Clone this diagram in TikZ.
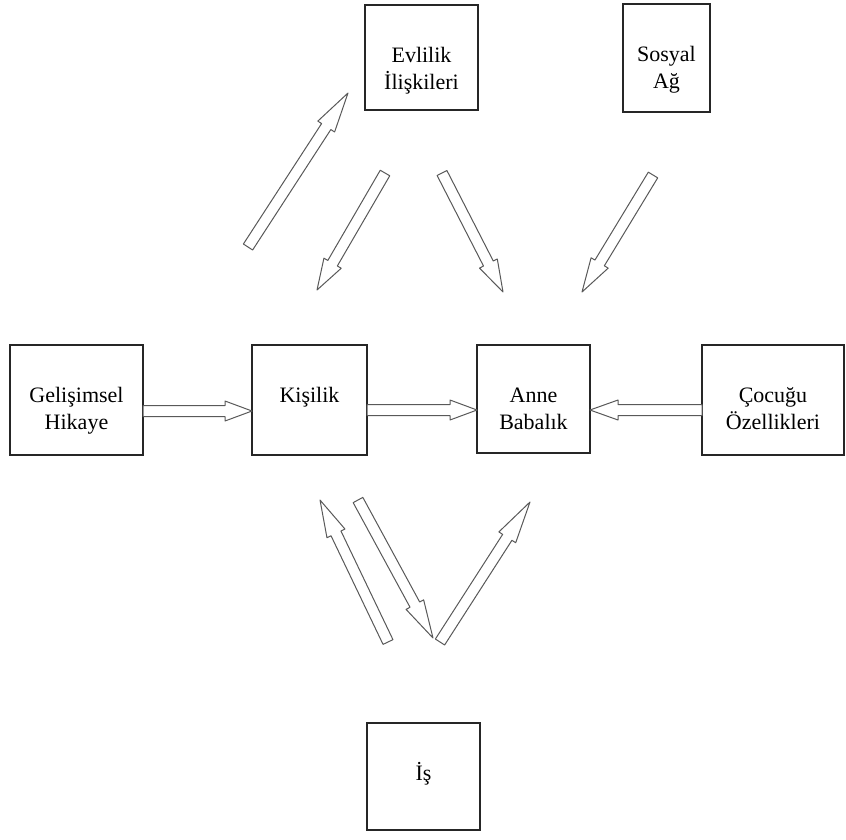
\documentclass[tikz,border=0pt]{standalone}
\usepackage{fontspec}
\setmainfont{Liberation Serif}
\usetikzlibrary{calc}
\tikzset{
  box/.style={draw=black!85, line width=1.2pt, inner sep=0pt, outer sep=0pt},
  arrowline/.style={draw=black!65, line width=1pt, line join=round, fill=white}
}
\newcommand\bx[3]{\begin{minipage}[c][#2pt][t]{#1pt}\centering\fontsize{22pt}{27pt}\selectfont\vspace*{38pt}\rule{0pt}{19pt}#3\end{minipage}}
% hollow block arrow: start, end, head length
\newcommand\hollowarrow[3]{%
  \path let \p1=#1, \p2=#2, \n1={atan2(\y2-\y1,\x2-\x1)}, \n2={veclen(\x2-\x1,\y2-\y1)} in
    \pgfextra{\pgfmathsetmacro\harang{\n1}\global\let\harangG\harang
      \pgfmathsetmacro\harlen{\n2}\global\let\harlenG\harlen
      \xdef\harx{\x1}\xdef\hary{\y1}};
  \pgfmathsetmacro\harbase{\harlenG-#3}%
  \draw[arrowline, shift={(\harx,\hary)}, rotate=\harangG]
    (0pt,-5.5pt) -- (\harbase pt,-5.5pt) -- (\harbase pt,-10pt) -- (\harlenG pt,0pt)
    -- (\harbase pt,10pt) -- (\harbase pt,5.5pt) -- (0pt,5.5pt) -- cycle;
}
\begin{document}
\begin{tikzpicture}[x=1pt,y=-1pt]
\useasboundingbox (0,0) rectangle (846,839);
% boxes
\node[box] (evl) at (421.5,57.5) {\bx{113}{105}{Evlilik\\İlişkileri}};
\node[box] (sos) at (666.5,58) {\bx{87}{108}{Sosyal\\Ağ}};
\node[box] (gel) at (76.5,400) {\bx{133}{110}{Gelişimsel\\Hikaye}};
\node[box] (kis) at (309.5,400) {\bx{115}{110}{Kişilik}};
\node[box] (anne) at (533.5,399) {\bx{113}{108}{Anne\\Babalık}};
\node[box] (coc) at (773,400) {\bx{142}{110}{Çocuğu\\Özellikleri}};
\node[box] (is) at (423.5,776.5) {\bx{113}{107}{İş}};
% free ends of the diagonal arrows
\coordinate (a1s) at (248,247); \coordinate (a1e) at (348,93);
\coordinate (a2s) at (385,173); \coordinate (a2e) at (317,290);
\coordinate (a3s) at (442,173); \coordinate (a3e) at (503,292);
\coordinate (a4s) at (653,175); \coordinate (a4e) at (582,292);
\coordinate (a5s) at (388,642); \coordinate (a5e) at (320,500);
\coordinate (a6s) at (358,500); \coordinate (a6e) at (433,638);
\coordinate (a7s) at (440,642); \coordinate (a7e) at (530,502);
% horizontal arrows
\hollowarrow{([yshift=-11pt]gel.east)}{([yshift=-11pt]kis.west)}{27}
\hollowarrow{([yshift=-10pt]kis.east)}{([yshift=-11pt]anne.west)}{27}
\hollowarrow{([yshift=-10pt]coc.west)}{([yshift=-11pt]anne.east)}{28}
% diagonal arrows
\hollowarrow{(a1s)}{(a1e)}{40}
\hollowarrow{(a2s)}{(a2e)}{31}
\hollowarrow{(a3s)}{(a3e)}{32}
\hollowarrow{(a4s)}{(a4e)}{34}
\hollowarrow{(a5s)}{(a5e)}{37}
\hollowarrow{(a6s)}{(a6e)}{38}
\hollowarrow{(a7s)}{(a7e)}{42}
\end{tikzpicture}
\end{document}
